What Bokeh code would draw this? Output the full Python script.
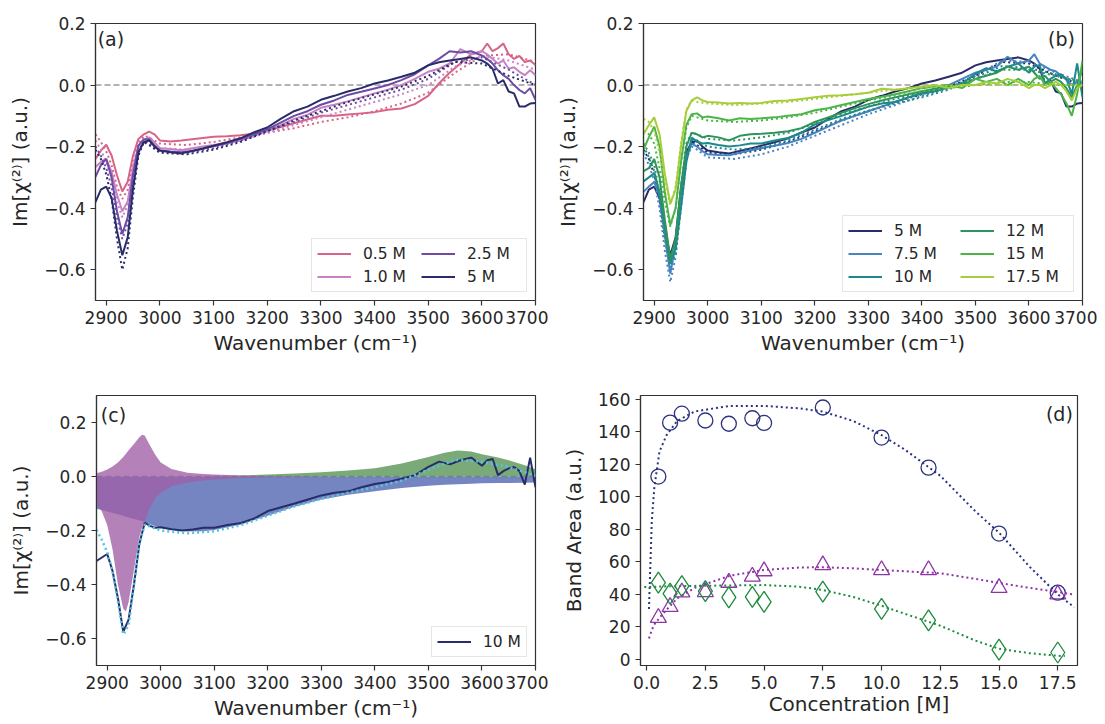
from bokeh.plotting import figure
from bokeh.layouts import row, column
from bokeh.models import (FixedTicker, CustomJSTickFormatter, Label, Legend,
                          LegendItem, Span)
from bokeh.embed import file_html
from bokeh.resources import INLINE

FONT = "DejaVu Sans"
TXT = "#262626"

# ---------------- spectra (panels a, b, c) ----------------
WN = [2880, 2890, 2900, 2910, 2920, 2930, 2940, 2950, 2960, 2970, 2980, 2990, 3000,
      3020, 3040, 3060, 3080, 3100, 3125, 3150, 3175, 3200,
      3225, 3250, 3275, 3300, 3325, 3350, 3375, 3400, 3425, 3450, 3475, 3500,
      3520, 3540, 3560, 3580, 3600, 3610, 3620, 3630, 3640, 3650, 3660, 3670, 3680, 3690, 3700]

S_05 = [-0.24, -0.213, -0.194, -0.229, -0.293, -0.346, -0.314, -0.229, -0.175, -0.16, -0.151, -0.16, -0.18,
        -0.183, -0.18, -0.176, -0.172, -0.168, -0.166, -0.163, -0.158, -0.148,
        -0.136, -0.124, -0.112, -0.100, -0.100, -0.096, -0.092, -0.088, -0.080, -0.076, -0.062, -0.035,
        0.005, 0.04, 0.07, 0.10, 0.11, 0.135, 0.11, 0.12, 0.135, 0.10, 0.085, 0.095, 0.075, 0.08, 0.065]
S_10 = [-0.266, -0.25, -0.24, -0.282, -0.356, -0.41, -0.378, -0.27, -0.197, -0.18, -0.17, -0.186, -0.205,
        -0.208, -0.212, -0.205, -0.2, -0.195, -0.188, -0.18, -0.165, -0.148,
        -0.13, -0.11, -0.097, -0.074, -0.064, -0.053, -0.04, -0.027, -0.015, 0.0, 0.02, 0.043,
        0.053, 0.07, 0.117, 0.10, 0.11, 0.1, 0.085, 0.07, 0.08, 0.053, 0.058, 0.043, 0.032, 0.048, 0.032]
S_25 = [-0.298, -0.26, -0.24, -0.30, -0.41, -0.484, -0.43, -0.29, -0.197, -0.176, -0.176, -0.197, -0.213,
        -0.216, -0.218, -0.214, -0.207, -0.198, -0.188, -0.175, -0.16, -0.144,
        -0.122, -0.1, -0.085, -0.064, -0.05, -0.032, -0.022, -0.011, 0.0, 0.016, 0.035, 0.064,
        0.085, 0.11, 0.106, 0.11, 0.096, 0.085, 0.07, 0.048, 0.032, 0.02, 0.0, -0.016, -0.027, -0.01, -0.048]
S_5 = [-0.38, -0.34, -0.33, -0.367, -0.473, -0.553, -0.495, -0.335, -0.218, -0.186, -0.18, -0.2, -0.213,
       -0.218, -0.222, -0.214, -0.206, -0.197, -0.186, -0.173, -0.154, -0.138,
       -0.11, -0.085, -0.07, -0.048, -0.035, -0.021, -0.01, 0.005, 0.015, 0.027, 0.04, 0.064,
       0.074, 0.08, 0.085, 0.09, 0.08, 0.07, 0.053, 0.005, 0.016, -0.021, -0.027, -0.07, -0.07, -0.06, -0.058]
S_75 = [-0.347, -0.33, -0.315, -0.36, -0.49, -0.613, -0.52, -0.35, -0.23, -0.19, -0.2, -0.215, -0.225,
        -0.227, -0.228, -0.22, -0.212, -0.205, -0.197, -0.188, -0.175, -0.155,
        -0.135, -0.115, -0.1, -0.085, -0.07, -0.055, -0.04, -0.025, -0.012, 0.0, 0.02, 0.04,
        0.05, 0.06, 0.092, 0.07, 0.08, 0.1, 0.07, 0.06, 0.05, 0.045, 0.03, 0.02, 0.0, 0.01, 0.0]
S_100 = [-0.313, -0.30, -0.287, -0.35, -0.45, -0.575, -0.53, -0.40, -0.25, -0.171, -0.183, -0.19, -0.188,
         -0.195, -0.2, -0.196, -0.19, -0.19, -0.18, -0.172, -0.155, -0.128,
         -0.114, -0.1, -0.085, -0.07, -0.06, -0.055, -0.04, -0.028, -0.02, -0.008, 0.005, 0.036,
         0.055, 0.045, 0.06, 0.07, 0.04, 0.06, 0.065, 0.005, 0.02, 0.03, 0.035, 0.02, -0.03, 0.07, -0.04]
S_120 = [-0.28, -0.27, -0.24, -0.30, -0.44, -0.565, -0.50, -0.33, -0.20, -0.155, -0.16, -0.17, -0.165,
         -0.17, -0.18, -0.165, -0.16, -0.158, -0.155, -0.15, -0.14, -0.12,
         -0.105, -0.09, -0.075, -0.062, -0.05, -0.04, -0.03, -0.02, -0.012, -0.005, 0.0, 0.02,
         0.03, 0.04, 0.06, 0.05, 0.06, 0.04, 0.02, 0.03, 0.01, 0.02, 0.01, -0.01, -0.04, 0.0, 0.05]
S_150 = [-0.21, -0.17, -0.135, -0.2, -0.35, -0.455, -0.40, -0.25, -0.13, -0.095, -0.092, -0.105, -0.102,
         -0.108, -0.115, -0.108, -0.11, -0.108, -0.105, -0.1, -0.095, -0.082,
         -0.075, -0.065, -0.055, -0.045, -0.038, -0.03, -0.02, -0.01, -0.005, 0.0, -0.01, 0.02,
         0.01, 0.02, 0.0, 0.02, 0.0, 0.02, 0.03, 0.0, 0.01, -0.01, -0.03, -0.06, -0.1, -0.03, 0.08]
S_175 = [-0.16, -0.13, -0.105, -0.16, -0.29, -0.385, -0.34, -0.2, -0.085, -0.05, -0.04, -0.05, -0.055,
         -0.057, -0.06, -0.058, -0.06, -0.058, -0.052, -0.05, -0.045, -0.04,
         -0.035, -0.033, -0.03, -0.025, -0.012, -0.015, -0.01, -0.005, 0.0, -0.01, 0.0, 0.0,
         0.01, 0.005, 0.02, 0.01, -0.01, 0.0, 0.0, -0.01, 0.0, 0.01, 0.0, -0.02, -0.05, -0.01, 0.0]

# fitted curves (dotted)
FWN = [2880, 2890, 2900, 2910, 2920, 2930, 2940, 2950, 2960, 2970, 2980, 3000, 3050,
       3100, 3150, 3200, 3250, 3300, 3350, 3400, 3450, 3500, 3550, 3600, 3650, 3700]
F_05 = [-0.16, -0.185, -0.215, -0.26, -0.33, -0.37, -0.34, -0.26, -0.19, -0.165, -0.17, -0.19, -0.195,
        -0.185, -0.17, -0.155, -0.14, -0.12, -0.105, -0.085, -0.06, -0.025, 0.04, 0.095, 0.10, 0.075]
F_10 = [-0.18, -0.21, -0.25, -0.30, -0.38, -0.43, -0.39, -0.29, -0.21, -0.18, -0.185, -0.205, -0.21,
        -0.2, -0.18, -0.155, -0.13, -0.105, -0.08, -0.055, -0.03, 0.0, 0.06, 0.095, 0.08, 0.05]
F_25 = [-0.20, -0.23, -0.27, -0.33, -0.43, -0.50, -0.45, -0.32, -0.22, -0.18, -0.19, -0.215, -0.22,
        -0.205, -0.18, -0.15, -0.12, -0.09, -0.065, -0.04, -0.015, 0.02, 0.075, 0.09, 0.05, 0.0]
F_5 = [-0.21, -0.24, -0.29, -0.37, -0.50, -0.60, -0.53, -0.36, -0.23, -0.185, -0.195, -0.22, -0.225,
       -0.21, -0.185, -0.15, -0.115, -0.085, -0.055, -0.03, -0.005, 0.03, 0.075, 0.07, 0.03, 0.0]
F_75 = [-0.22, -0.26, -0.31, -0.40, -0.54, -0.64, -0.56, -0.38, -0.24, -0.2, -0.21, -0.235, -0.24,
        -0.225, -0.2, -0.165, -0.13, -0.095, -0.065, -0.035, -0.01, 0.03, 0.08, 0.075, 0.04, 0.01]
F_100 = [-0.198, -0.235, -0.28, -0.35, -0.46, -0.585, -0.55, -0.40, -0.25, -0.178, -0.185, -0.2, -0.21,
         -0.203, -0.18, -0.145, -0.11, -0.083, -0.06, -0.04, -0.015, 0.025, 0.062, 0.055, 0.035, 0.003]
F_120 = [-0.19, -0.22, -0.26, -0.35, -0.49, -0.58, -0.51, -0.33, -0.19, -0.155, -0.16, -0.175, -0.18,
         -0.17, -0.155, -0.125, -0.095, -0.07, -0.045, -0.025, -0.005, 0.02, 0.05, 0.05, 0.03, 0.01]
F_150 = [-0.15, -0.16, -0.19, -0.27, -0.38, -0.46, -0.40, -0.25, -0.14, -0.1, -0.105, -0.115, -0.12,
         -0.115, -0.105, -0.09, -0.07, -0.05, -0.035, -0.02, -0.01, 0.0, 0.01, 0.01, 0.0, 0.0]
F_175 = [-0.11, -0.12, -0.15, -0.22, -0.31, -0.39, -0.33, -0.19, -0.08, -0.05, -0.055, -0.06, -0.065,
         -0.06, -0.055, -0.045, -0.035, -0.025, -0.015, -0.008, -0.003, 0.0, 0.0, 0.0, 0.0, 0.0]

# fit components for 10 M (panel c)
CWN = [2880, 2890, 2900, 2910, 2920, 2930, 2935, 2940, 2950, 2960, 2965, 2970, 2980, 2990, 3000,
       3020, 3050, 3080, 3100, 3150, 3200, 3250, 3300, 3350, 3400, 3450, 3500, 3530, 3555,
       3580, 3600, 3630, 3650, 3680, 3700]
C_NEG = [-0.10, -0.13, -0.18, -0.27, -0.40, -0.49, -0.50, -0.465, -0.345, -0.225, -0.19, -0.168,
         -0.115, -0.08, -0.06, -0.036, -0.022, -0.015, -0.011, -0.006, -0.003, -0.002, -0.001,
         0, 0, 0, 0, 0, 0, 0, 0, 0, 0, 0, 0]
C_POS = [0.012, 0.018, 0.026, 0.037, 0.052, 0.072, 0.084, 0.097, 0.12, 0.145, 0.155, 0.152,
         0.115, 0.08, 0.052, 0.028, 0.014, 0.009, 0.007, 0.004, 0.002, 0.001, 0.0,
         0, 0, 0, 0, 0, 0, 0, 0, 0, 0, 0, 0]
C_BROAD = [-0.119, -0.124, -0.13, -0.135, -0.14, -0.146, -0.149, -0.152, -0.157, -0.162, -0.165,
           -0.168, -0.177, -0.184, -0.19, -0.198, -0.204, -0.203, -0.198, -0.178, -0.145, -0.112,
           -0.085, -0.068, -0.055, -0.043, -0.034, -0.031, -0.029, -0.027, -0.025, -0.024,
           -0.024, -0.023, -0.022]
C_HIGH = [0, 0, 0, 0, 0, 0, 0, 0, 0, 0, 0, 0, 0, 0, 0, 0, 0,
          0.001, 0.002, 0.004, 0.007, 0.011, 0.016, 0.022, 0.031, 0.048, 0.072, 0.088, 0.096,
          0.093, 0.082, 0.07, 0.06, 0.042, 0.027]

# ---------------- band areas (panel d) ----------------
CONC = [0.5, 1.0, 1.5, 2.5, 3.5, 4.5, 5.0, 7.5, 10.0, 12.0, 15.0, 17.5]
AREA_C = [112.5, 145.7, 151.2, 147.0, 145.0, 148.4, 145.5, 155.0, 136.5, 118.0, 77.4, 41.0]
AREA_T = [25.6, 32.3, 41.3, 41.5, 47.2, 51.0, 54.3, 58.0, 55.0, 55.0, 44.0, 40.0]
AREA_D = [47.2, 40.4, 45.0, 42.0, 38.2, 38.4, 35.4, 41.7, 31.0, 24.0, 6.0, 4.2]
FIT_X = [0.1, 0.22, 0.33, 0.55, 0.85, 1.3, 2.05, 3.55, 5.0, 6.5, 7.5, 8.8, 10.0, 11.0, 12.5,
         14.0, 15.0, 16.3, 17.5, 18.2]
FIT_C = [31, 85, 106, 128, 138, 146.7, 152.6, 156, 156, 154.5, 152.5, 146.7, 138, 129, 113,
         91, 78, 57, 40, 32]
FIT_T = [12.8, 18, 21.5, 25.6, 30.5, 37.5, 44, 51.5, 55, 56.5, 56.7, 56, 55, 54.2, 53,
         49.5, 47, 44, 41.5, 39.8]
FIT_D_X = [-0.1, 1.0, 2.5, 5.0, 6.5, 7.5, 8.8, 10.0, 11.0, 12.5, 14.0, 15.0, 16.3, 17.5, 17.8]
FIT_D = [44.5, 45.0, 45.3, 45.7, 44.7, 42.7, 38.4, 33.0, 28.0, 20.7, 11.5, 6.5, 3.8, 2.2, 2.0]

WN_TICKS = [2900, 3000, 3100, 3200, 3300, 3400, 3500, 3600, 3700]
IM_TICKS = [-0.6, -0.4, -0.2, 0.0, 0.2]
CONC_TICKS = [0.0, 2.5, 5.0, 7.5, 10.0, 12.5, 15.0, 17.5]
AREA_TICKS = [0, 20, 40, 60, 80, 100, 120, 140, 160]

XLAB = "Wavenumber (cm\u207b\u00b9)"
YLAB = "Im[\u03c7\u207d\u00b2\u207e] (a.u.)"

FMT1 = "return tick.toFixed(1).replace('-', '\u2212');"


def make_fig(width, height, xr, yr, bl, br, bt, bb):
    p = figure(width=width, height=height, x_range=xr, y_range=yr,
               min_border_left=bl, min_border_right=br, min_border_top=bt,
               min_border_bottom=bb, output_backend="svg", toolbar_location=None)
    p.grid.visible = False
    p.outline_line_color = "#333333"
    p.outline_line_width = 1.2
    p.background_fill_color = "white"
    p.border_fill_color = "white"
    for ax in p.axis:
        ax.axis_line_color = "#333333"
        ax.axis_line_width = 1.2
        ax.major_tick_line_color = "#333333"
        ax.major_tick_line_width = 1.2
        ax.major_tick_out = 5
        ax.major_tick_in = 0
        ax.minor_tick_line_color = None
        ax.major_label_text_font = FONT
        ax.major_label_text_font_size = "17px"
        ax.major_label_text_color = TXT
        ax.major_label_standoff = 5
        ax.axis_label_text_font = FONT
        ax.axis_label_text_font_size = "20px"
        ax.axis_label_text_font_style = "normal"
        ax.axis_label_text_color = TXT
    return p


def spectral_axes(p):
    p.xaxis.ticker = FixedTicker(ticks=WN_TICKS)
    p.yaxis.ticker = FixedTicker(ticks=IM_TICKS)
    p.yaxis.formatter = CustomJSTickFormatter(code=FMT1)
    p.xaxis.axis_label = XLAB
    p.yaxis.axis_label = YLAB
    p.yaxis.axis_label_standoff = 9


def zero_line(p, level):
    p.add_layout(Span(location=0, dimension="width", line_color="#9a9a9a",
                      line_dash="6 3", line_width=1.5, level=level))


def add_legend(p, items, ncols, label_width):
    leg = Legend(items=items, location="bottom_right", ncols=ncols,
                 label_text_font=FONT, label_text_font_size="15.5px",
                 label_text_color=TXT, glyph_width=34, glyph_height=19,
                 label_height=19, label_width=label_width, label_standoff=12,
                 spacing=4, padding=5, margin=8,
                 border_line_color="#cccccc", border_line_width=1,
                 background_fill_alpha=0.8)
    p.add_layout(leg)


def panel_label(p, x, y, text, align):
    p.add_layout(Label(x=x, y=y, text=text, text_align=align, text_baseline="top",
                       text_font=FONT, text_font_size="19px", text_color=TXT))


# ---------------- panel (a) ----------------
pa = make_fig(548, 357, (2880, 3700), (-0.7, 0.2), 95, 13, 23, 52)
spectral_axes(pa)
pa.xaxis.axis_label_standoff = 4
zero_line(pa, "underlay")
items = []
for lab, s, f, col in [("0.5 M", S_05, F_05, "#d76487"), ("1.0 M", S_10, F_10, "#c882c3"),
                       ("2.5 M", S_25, F_25, "#6e4ba5"), ("5 M", S_5, F_5, "#282d69")]:
    r = pa.line(WN, s, line_color=col, line_width=2)
    pa.line(FWN, f, line_color=col, line_width=2, line_dash="2 3")
    items.append(LegendItem(label=lab, renderers=[r]))
add_legend(pa, items, 2, 54)
panel_label(pa, 2884, 0.185, "(a)", "left")

# ---------------- panel (b) ----------------
pb = make_fig(549, 357, (2880, 3700), (-0.7, 0.2), 95, 15, 22, 54)
spectral_axes(pb)
pb.xaxis.axis_label_standoff = 4
zero_line(pb, "underlay")
items = []
for lab, s, f, col in [("5 M", S_5, F_5, "#282d69"), ("7.5 M", S_75, F_75, "#4784c0"),
                       ("10 M", S_100, F_100, "#1d898c"), ("12 M", S_120, F_120, "#2e945e"),
                       ("15 M", S_150, F_150, "#4db548"), ("17.5 M", S_175, F_175, "#a7cd3b")]:
    r = pb.line(WN, s, line_color=col, line_width=2)
    pb.line(FWN, f, line_color=col, line_width=2, line_dash="2 3")
    items.append(LegendItem(label=lab, renderers=[r]))
add_legend(pb, items, 2, 62)
panel_label(pb, 3686, 0.185, "(b)", "right")

# ---------------- panel (c) ----------------
pc = make_fig(548, 366, (2880, 3700), (-0.7, 0.3), 96, 13, 27, 58)
spectral_axes(pc)
pc.xaxis.axis_label_standoff = 4
zero_line(pc, "underlay")
pc.varea(x=CWN, y1=0, y2=C_BROAD, fill_color="#4e63b1", fill_alpha=0.78)
pc.varea(x=CWN, y1=0, y2=C_HIGH, fill_color="#549252", fill_alpha=0.78)
pc.varea(x=CWN, y1=0, y2=C_NEG, fill_color="#9f5fa5", fill_alpha=0.78)
pc.varea(x=CWN, y1=0, y2=C_POS, fill_color="#9f5fa5", fill_alpha=0.78)
rc = pc.line(WN, S_100, line_color="#282d69", line_width=2)
pc.line(FWN, F_100, line_color="#56c4e0", line_width=2.6, line_dash="2 3")
add_legend(pc, [LegendItem(label="10 M", renderers=[rc])], 1, 20)
panel_label(pc, 2888, 0.27, "(c)", "left")

# ---------------- panel (d) ----------------
pd_ = make_fig(549, 366, (-0.26, 18.34), (-3.8, 162.4), 92, 20, 38, 48)
pd_.xaxis.ticker = FixedTicker(ticks=CONC_TICKS)
pd_.xaxis.formatter = CustomJSTickFormatter(code=FMT1)
pd_.yaxis.ticker = FixedTicker(ticks=AREA_TICKS)
pd_.xaxis.axis_label = "Concentration [M]"
pd_.yaxis.axis_label = "Band Area (a.u.)"
pd_.xaxis.axis_label_standoff = 0
pd_.yaxis.axis_label_standoff = 9
NAVY, PURP, GREEN = "#2b3480", "#8e35a5", "#1e8c3e"
pd_.scatter(CONC, AREA_C, marker="circle", size=15, fill_color=None,
            line_color=NAVY, line_width=1.3)
pd_.scatter(CONC, AREA_T, marker="triangle", size=16, fill_color=None,
            line_color=PURP, line_width=1.3)
pd_.scatter(CONC, AREA_D, marker="diamond", size=21, fill_color=None,
            line_color=GREEN, line_width=1.3)
pd_.line(FIT_X, FIT_C, line_color=NAVY, line_width=2, line_dash="2 3")
pd_.line(FIT_X, FIT_T, line_color=PURP, line_width=2, line_dash="2 3")
pd_.line(FIT_D_X, FIT_D, line_color=GREEN, line_width=2, line_dash="2 3")
panel_label(pd_, 18.14, 157.5, "(d)", "right")

layout = column(row(pa, pb), row(pc, pd_))
open("out.html", "w").write(file_html(layout, INLINE))
